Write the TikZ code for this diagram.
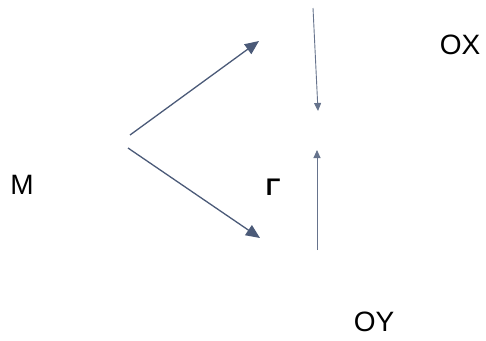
\documentclass[tikz,border=0pt]{standalone}
\usepackage{fontspec}
\setmainfont{Liberation Sans}
\usetikzlibrary{arrows.meta}
\definecolor{arrowslate}{HTML}{4B5A78}

\begin{document}
\begin{tikzpicture}[
        x=1pt, y=-1pt,
        lbl/.style={font=\fontsize{28}{30}\selectfont, inner sep=0pt},
        bigarrow/.style={-{Triangle[length=14pt, width=12pt]}, arrowslate, line width=1.3pt},
        smallarrow/.style={-{Triangle[length=8pt, width=7pt]}, arrowslate!85, line width=0.9pt}
    ]
    \useasboundingbox (0,0) rectangle (486,340);

    % labels
    \node[lbl] (M) at (22,185) {M};
    \node[lbl] (OX) at (460,45) {OX};
    \node[lbl] (OY) at (374,322) {OY};
    \node[font=\fontsize{24}{26}\selectfont\bfseries, inner sep=0pt] (Gamma) at (273,187) {Γ};

    % arrow ends
    \coordinate (upstart) at (130,135);
    \coordinate (uptip) at (259,41);
    \coordinate (lowstart) at (128,148);
    \coordinate (lowtip) at (260,238);
    \coordinate (downtop) at (313,8);
    \coordinate (downtip) at (318,111);
    \coordinate (risebot) at (317,250);
    \coordinate (risetip) at (317,150);

    \draw[bigarrow] (upstart) -- (uptip);
    \draw[bigarrow] (lowstart) -- (lowtip);
    \draw[smallarrow] (downtop) -- (downtip);
    \draw[smallarrow] (risebot) -- (risetip);
\end{tikzpicture}
\end{document}
